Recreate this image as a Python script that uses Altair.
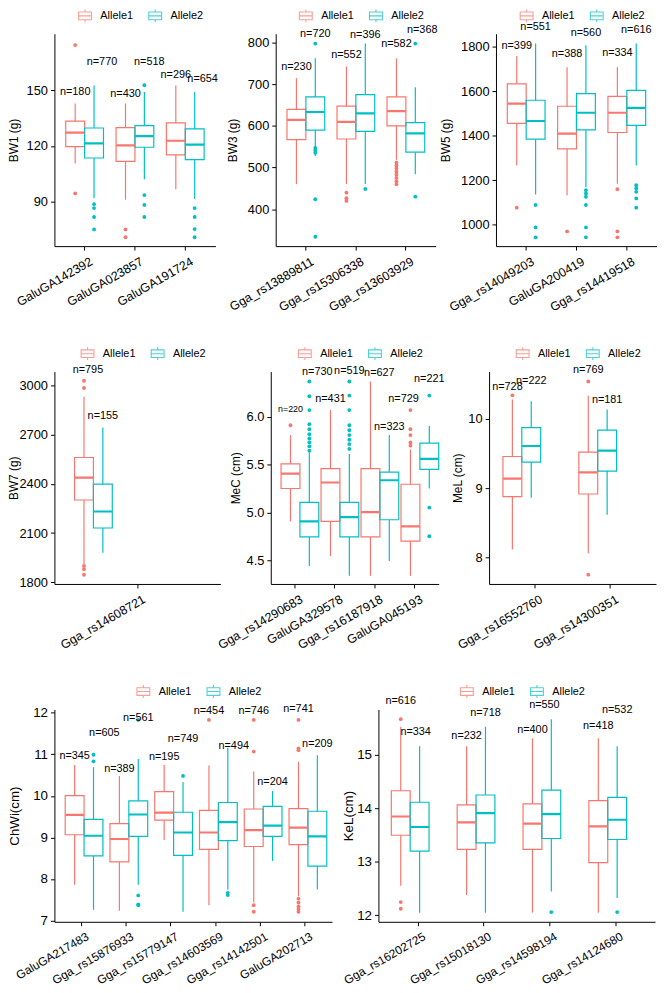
import altair as alt
import pandas as pd

ALLELES = ["Allele1", "Allele2"]
PALETTE = ["#F8766D", "#00BFC4"]
FONT = "Liberation Sans"

# ---------- data (order inside each list: SNP1-Allele1, SNP1-Allele2, SNP2-Allele1, ...) ----------
BW1_SNPS = ["GaluGA142392", "GaluGA023857", "GaluGA191724"]
BW1_LO = [110.5, 91.8, 91.0, 102.0, 96.7, 91.4]
BW1_Q1 = [119.6, 113.5, 111.7, 119.3, 115.2, 112.6]
BW1_MED = [127.2, 121.4, 120.3, 125.3, 122.8, 120.7]
BW1_Q3 = [133.4, 129.7, 129.9, 131.0, 132.4, 129.2]
BW1_HI = [142.9, 152.6, 142.9, 149.1, 152.6, 149.1]
BW1_N = [180, 770, 430, 518, 296, 654]
BW1_NY = [149.3, 165.0, 147.9, 165.5, 158.1, 156.2]
BW1_OUT = [[174.4, 94.4], [88.6, 86.5, 81.7, 75.0], [75.0, 70.8],
           [152.8, 93.5, 88.2, 81.7], [], [86.5, 81.7, 75.2, 70.8]]

BW3_SNPS = ["Gga_rs13889811", "Gga_rs15306338", "Gga_rs13603929"]
BW3_LO = [460.2, 527.6, 460.2, 460.2, 518.8, 484.0]
BW3_Q1 = [567.2, 590.1, 568.7, 587.0, 600.4, 537.0]
BW3_MED = [614.7, 633.7, 610.0, 630.5, 636.0, 582.2]
BW3_Q3 = [640.0, 670.1, 648.0, 675.7, 670.1, 608.3]
BW3_HI = [715.3, 762.8, 743.0, 798.4, 762.8, 693.0]
BW3_N = [230, 720, 552, 396, 582, 368]
BW3_NY = [743.0, 822.0, 770.7, 819.8, 798.0, 831.7]
BW3_OUT = [[], [798.4, 547.4, 541.0, 535.5, 423.8, 333.5], [439.6, 426.2, 419.8],
           [448.4], [512, 505, 498, 490, 483, 475, 467, 460], [798.4, 430.0]]

BW5_SNPS = ["Gga_rs14049203", "GaluGA200419", "Gga_rs14419518"]
BW5_LO = [1266.7, 1136.0, 1133.0, 1170.0, 1185.0, 1266.7]
BW5_Q1 = [1456.0, 1385.0, 1341.0, 1426.7, 1415.0, 1447.4]
BW5_MED = [1545.0, 1466.7, 1410.0, 1503.7, 1503.7, 1526.0]
BW5_Q3 = [1634.0, 1560.0, 1533.0, 1590.0, 1577.8, 1604.0]
BW5_HI = [1758.5, 1814.8, 1708.0, 1807.0, 1708.0, 1814.8]
BW5_N = [399, 551, 388, 560, 334, 616]
BW5_NY = [1804.4, 1888.9, 1766.0, 1863.7, 1770.4, 1874.0]
BW5_OUT = [[1077.0], [1089.0, 988.0, 943.7], [970.0],
           [1155.6, 1141.0, 1126.0, 1089.0, 988.0, 943.7], [1160.0, 970.0, 943.7],
           [1177.8, 1163.0, 1148.0, 1118.5, 1077.0]]

BW7_SNPS = ["Gga_rs14608721"]
BW7_LO = [1910.0, 1980.0]
BW7_Q1 = [2301.7, 2131.0]
BW7_MED = [2438.0, 2231.4]
BW7_Q3 = [2560.5, 2398.0]
BW7_HI = [2930.0, 2743.0]
BW7_N = [795, 155]
BW7_NY = [3094.0, 2813.0]
BW7_OUT = [[3028.0, 2984.0, 1900.0, 1880.0, 1846.0], []]

MEC_SNPS = ["Gga_rs14290683", "GaluGA329578", "Gga_rs16187918", "GaluGA045193"]
MEC_LO = [4.909, 4.445, 4.548, 4.342, 4.342, 4.497, 4.342, 5.252]
MEC_Q1 = [5.252, 4.747, 4.909, 4.747, 4.747, 4.926, 4.703, 5.451]
MEC_MED = [5.406, 4.909, 5.314, 4.953, 5.005, 5.338, 4.857, 5.561]
MEC_Q3 = [5.509, 5.108, 5.458, 5.108, 5.458, 5.423, 5.296, 5.725]
MEC_HI = [5.808, 5.629, 6.069, 5.612, 6.367, 5.808, 5.657, 5.904]
MEC_N = [220, 730, 431, 519, 627, 323, 729, 221]
MEC_NY = [6.075, 6.47, 6.18, 6.477, 6.46, 5.897, 6.189, 6.39]
MEC_OUT = [[5.911],
           [6.367, 6.213, 6.069, 5.921, 5.870, 5.818, 5.773, 5.732, 5.691, 5.646],
           [],
           [6.367, 6.220, 6.069, 5.911, 5.859, 5.808, 5.760, 5.715, 5.664],
           [], [],
           [6.069, 5.870, 5.808, 5.732, 5.698],
           [6.220, 5.053, 4.754]]

MEL_SNPS = ["Gga_rs16552760", "Gga_rs14300351"]
MEL_LO = [8.118, 8.863, 8.062, 8.616]
MEL_Q1 = [8.877, 9.374, 8.915, 9.246]
MEL_MED = [9.137, 9.607, 9.227, 9.540]
MEL_Q3 = [9.455, 9.872, 9.517, 9.834]
MEL_HI = [10.275, 10.250, 10.330, 10.133]
MEL_N = [728, 222, 769, 181]
MEL_NY = [10.46, 10.545, 10.70, 10.265]
MEL_OUT = [[10.336], [], [10.536, 7.754], []]

CHWI_SNPS = ["GaluGA217483", "Gga_rs15876933", "Gga_rs15779147",
             "Gga_rs14603569", "Gga_rs14142501", "GaluGA202713"]
CHWI_LO = [7.863, 7.259, 7.235, 7.863, 8.940, 7.212, 7.369, 7.746, 7.432, 8.436, 7.589, 7.746]
CHWI_Q1 = [9.064, 8.554, 8.413, 9.025, 9.418, 8.570, 8.711, 8.923, 8.782, 9.025, 8.829, 8.311]
CHWI_MED = [9.543, 9.041, 8.962, 9.551, 9.598, 9.119, 9.119, 9.370, 9.174, 9.284, 9.237, 9.025]
CHWI_Q3 = [10.006, 9.433, 9.331, 9.881, 10.100, 9.606, 9.653, 9.841, 9.684, 9.747, 9.692, 9.630]
CHWI_HI = [10.744, 10.689, 10.477, 10.885, 10.744, 10.336, 10.728, 11.160, 10.587, 10.116, 10.823, 10.980]
CHWI_N = [345, 605, 389, 561, 195, 749, 454, 494, 746, 204, 741, 209]
CHWI_NY = [10.948, 11.513, 10.634, 11.87, 10.925, 11.356, 12.05, 11.20, 12.05, 10.336, 12.10, 11.239]
CHWI_OUT = [[], [10.99, 10.83], [], [11.827, 7.604, 7.39, 7.369], [], [10.48],
            [11.827], [7.667, 7.612], [11.827, 11.066, 7.369, 7.212], [],
            [11.827, 11.144, 11.10, 7.526, 7.432, 7.338, 7.275, 7.212], []]

KEL_SNPS = ["Gga_rs16202725", "Gga_rs15018130", "Gga_rs14598194", "Gga_rs14124680"]
KEL_LO = [12.554, 12.05, 12.382, 12.05, 12.05, 12.443, 12.05, 12.326]
KEL_Q1 = [13.494, 13.199, 13.230, 13.353, 13.230, 13.433, 12.984, 13.414]
KEL_MED = [13.844, 13.648, 13.734, 13.906, 13.709, 13.888, 13.660, 13.783]
KEL_Q3 = [14.324, 14.109, 14.060, 14.244, 14.078, 14.336, 14.140, 14.201]
KEL_HI = [15.516, 15.154, 15.154, 15.516, 15.301, 15.658, 15.301, 15.154]
KEL_N = [616, 334, 232, 718, 400, 550, 418, 532]
KEL_NY = [15.996, 15.424, 15.338, 15.768, 15.461, 15.916, 15.522, 15.83]
KEL_OUT = [[15.658, 12.247, 12.124], [], [], [], [], [12.062], [], [12.062]]

# ---------- drawing ----------
LEGEND_PATH = "M-1,-0.6H1V0.6H-1Z M-1,0H1 M0,-0.6V-1 M0,0.6V1"
KEY_SCALE = alt.Scale(domain=ALLELES, range=PALETTE)   # legend (stroke) scale
MARK_SCALE = alt.Scale(range=PALETTE)                  # mark colour scale (domain from data)


def panel(snps, lo, q1, med, q3, hi, n, ny, out, ytitle, domain, ticks, width,
          height=215, fmt="d", title_offset=36, title_size=12, tick_size=13,
          xlab_size=12.5, nudges=None, small=()):
    nudges = nudges or {}
    rows, orows = [], []
    for i, snp in enumerate(snps):
        for j, al in enumerate(ALLELES):
            k = 2 * i + j
            rows.append(dict(snp=snp, allele=al, lo=lo[k], q1=q1[k], med=med[k],
                             q3=q3[k], hi=hi[k], label=f"n={n[k]}", ny=ny[k],
                             nudge=nudges.get(k, 0), small=1 if k in small else 0))
            for v in out[k]:
                orows.append(dict(snp=snp, allele=al, value=v))
    bdf = pd.DataFrame(rows)
    odf = pd.DataFrame(orows, columns=["snp", "allele", "value"])

    xenc = alt.X("snp:N", sort=snps,
                 scale=alt.Scale(domain=snps, paddingInner=0, paddingOuter=0.1),
                 axis=alt.Axis(labelAngle=-30, labelAlign="right", labelBaseline="top",
                               labelFontSize=xlab_size, labelPadding=5, labelOffset=4,
                               tickSize=4, labelLimit=300),
                 title=None)
    xo = alt.XOffset("allele:N", scale=alt.Scale(domain=ALLELES, paddingInner=0,
                                                 paddingOuter=1 / 3))
    yscale = alt.Scale(domain=domain, nice=False, zero=False)
    yaxis = alt.Axis(values=ticks, format=fmt, tickSize=4, labelPadding=3,
                     labelFontSize=tick_size, titleFontSize=title_size,
                     titleX=-title_offset, titleY=height / 2, titleAngle=270,
                     titleAlign="center", titleBaseline="bottom")
    legend = alt.Legend(
        orient="none", legendX=(width - 124) / 2 + 4, legendY=-26,
        direction="horizontal", title=None, symbolType=LEGEND_PATH,
        symbolSize=169, symbolStrokeWidth=1.1, symbolFillColor="transparent",
        labelFont=FONT, labelFontSize=11, labelColor="black", labelOffset=8,
        columnPadding=12, padding=0)

    def Y(field):
        return alt.Y(field, scale=yscale, axis=yaxis, title=ytitle)

    col = alt.Color("allele:N", scale=MARK_SCALE, legend=None)

    base = alt.Chart(bdf).encode(x=xenc, xOffset=xo)
    # legend-only layer (no rows survive the filter): carries the boxplot key
    key = base.transform_filter(alt.datum.snp == "__none__").mark_point(
        filled=False, shape=LEGEND_PATH).encode(
        y=Y("med:Q"), stroke=alt.Stroke("allele:N", scale=KEY_SCALE, legend=legend))
    box = base.mark_bar(filled=False, strokeWidth=1.2).encode(
        y=Y("q1:Q"), y2="q3:Q", color=col)
    whisk_lo = base.mark_rule(strokeWidth=1.2).encode(y=Y("lo:Q"), y2="q1:Q", color=col)
    whisk_hi = base.mark_rule(strokeWidth=1.2).encode(y=Y("q3:Q"), y2="hi:Q", color=col)
    medl = base.mark_bar(filled=False, strokeWidth=2.2).encode(
        y=Y("med:Q"), y2="med:Q", color=col)
    pts = alt.Chart(odf).mark_circle(size=15, opacity=1).encode(
        x=xenc, xOffset=xo, y=Y("value:Q"), color=col)
    layers = [key, box, whisk_lo, whisk_hi, medl, pts]
    for dx in sorted(set(bdf["nudge"])):
        layers.append(base.transform_filter(alt.datum.nudge == dx).mark_text(
            font=FONT, color="black", dx=dx, baseline="middle").encode(
            y=Y("ny:Q"), text="label:N",
            size=alt.condition(alt.datum.small == 1, alt.value(9), alt.value(11))))
    return alt.layer(*layers).properties(width=width, height=height)


p1 = panel(BW1_SNPS, BW1_LO, BW1_Q1, BW1_MED, BW1_Q3, BW1_HI, BW1_N, BW1_NY, BW1_OUT,
           "BW1 (g)", [66, 180.5], [90, 120, 150], 163, title_offset=34,
           nudges={1: 8, 3: 5, 5: 8})
p2 = panel(BW3_SNPS, BW3_LO, BW3_Q1, BW3_MED, BW3_Q3, BW3_HI, BW3_N, BW3_NY, BW3_OUT,
           "BW3 (g)", [311, 822], [400, 500, 600, 700, 800], 162, title_offset=37,
           nudges={5: 7})
p3 = panel(BW5_SNPS, BW5_LO, BW5_Q1, BW5_MED, BW5_Q3, BW5_HI, BW5_N, BW5_NY, BW5_OUT,
           "BW5 (g)", [904, 1859], [1000, 1200, 1400, 1600, 1800], 163, title_offset=44)
p4 = panel(BW7_SNPS, BW7_LO, BW7_Q1, BW7_MED, BW7_Q3, BW7_HI, BW7_N, BW7_NY, BW7_OUT,
           "BW7 (g)", [1790, 3084], [1800, 2100, 2400, 2700, 3000], 168, title_offset=34,
           nudges={0: 4})
p5 = panel(MEC_SNPS, MEC_LO, MEC_Q1, MEC_MED, MEC_Q3, MEC_HI, MEC_N, MEC_NY, MEC_OUT,
           "MeC (cm)", [4.257, 6.47], [4.5, 5.0, 5.5, 6.0], 170, fmt=".1f", title_offset=29,
           nudges={1: 8, 4: 9, 6: -7}, small=(0,))
p6 = panel(MEL_SNPS, MEL_LO, MEL_Q1, MEL_MED, MEL_Q3, MEL_HI, MEL_N, MEL_NY, MEL_OUT,
           "MeL (cm)", [7.62, 10.678], [8, 9, 10], 169, title_offset=25, nudges={0: -5})
p7 = panel(CHWI_SNPS, CHWI_LO, CHWI_Q1, CHWI_MED, CHWI_Q3, CHWI_HI, CHWI_N, CHWI_NY, CHWI_OUT,
           "ChWi(cm)", [6.97, 12.08], [7, 8, 9, 10, 11, 12], 281, title_offset=33,
           title_size=13.5, tick_size=13.5, xlab_size=12, nudges={1: 11, 7: 6})
p8 = panel(KEL_SNPS, KEL_LO, KEL_Q1, KEL_MED, KEL_Q3, KEL_HI, KEL_N, KEL_NY, KEL_OUT,
           "KeL(cm)", [11.88, 15.84], [12, 13, 14, 15], 280, title_offset=23,
           title_size=13.5, tick_size=13.5, xlab_size=12, nudges={1: -4, 5: -7})

RES = dict(color="independent", stroke="independent")
row1 = alt.hconcat(p1, p2, p3, spacing=61, bounds="flush").resolve_scale(**RES).resolve_legend(stroke="independent")
row2 = alt.hconcat(p4, p5, p6, spacing=51, bounds="flush").resolve_scale(**RES).resolve_legend(stroke="independent")
row3 = alt.hconcat(p7, p8, spacing=47, bounds="flush").resolve_scale(**RES).resolve_legend(stroke="independent")

chart = (
    alt.vconcat(row1, row2, row3, spacing=32, bounds="full")
    .resolve_scale(**RES)
    .resolve_legend(stroke="independent")
    .properties(padding={"left": 0, "top": -6, "right": 0, "bottom": 0},
                background="white")
    .configure_view(stroke=None)
    .configure_axis(grid=False, domainColor="black", domainWidth=1, tickColor="black",
                    tickWidth=1, labelColor="black", titleColor="black", labelFont=FONT,
                    titleFont=FONT, titleFontWeight="normal")
)

chart.save("out.html", embed_options={"renderer": "svg", "actions": False})
